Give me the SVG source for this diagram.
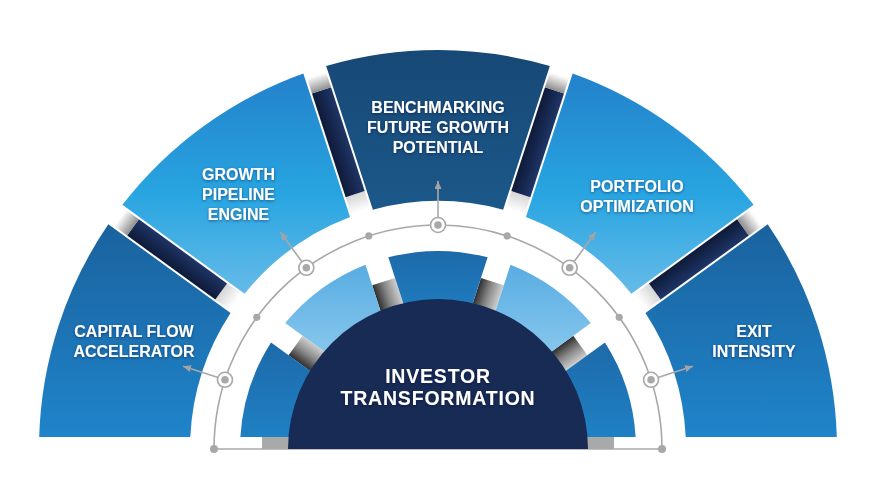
<svg xmlns="http://www.w3.org/2000/svg" width="876" height="504" viewBox="0 0 876 504">
  <defs>
    <linearGradient id="gOuterDark" x1="0" y1="0" x2="0" y2="1">
      <stop offset="0" stop-color="#1a629e"/>
      <stop offset="1" stop-color="#1f84ca"/>
    </linearGradient>
    <linearGradient id="gOuterLight" x1="0" y1="0" x2="0" y2="1">
      <stop offset="0" stop-color="#2381cb"/>
      <stop offset="0.55" stop-color="#28a5e1"/>
      <stop offset="1" stop-color="#66bbe8"/>
    </linearGradient>
    <linearGradient id="gTop" x1="0" y1="0" x2="0" y2="1">
      <stop offset="0" stop-color="#174876"/>
      <stop offset="1" stop-color="#1b5889"/>
    </linearGradient>
    <linearGradient id="gInnerMid" x1="0" y1="0" x2="0" y2="1">
      <stop offset="0" stop-color="#1d6aa9"/>
      <stop offset="1" stop-color="#1f80c4"/>
    </linearGradient>
    <linearGradient id="gInnerLight" x1="0" y1="0" x2="0" y2="1">
      <stop offset="0" stop-color="#58ace2"/>
      <stop offset="1" stop-color="#8ccaee"/>
    </linearGradient>
    <linearGradient id="gBand" x1="0" y1="0" x2="0" y2="1">
      <stop offset="0" stop-color="#0e1a38"/>
      <stop offset="1" stop-color="#1e3566"/>
    </linearGradient>
    <linearGradient id="gCapOut" x1="0" y1="0" x2="1" y2="0">
      <stop offset="0" stop-color="#8e8e8e"/>
      <stop offset="1" stop-color="#ffffff"/>
    </linearGradient>
    <linearGradient id="gCapIn" x1="0" y1="0" x2="1" y2="0">
      <stop offset="0" stop-color="#ffffff"/>
      <stop offset="1" stop-color="#d6d6d6"/>
    </linearGradient>
    <linearGradient id="gGrey" x1="0" y1="0" x2="0" y2="1">
      <stop offset="0" stop-color="#2e2e2e"/>
      <stop offset="0.5" stop-color="#8a8a8a"/>
      <stop offset="1" stop-color="#cfcfcf"/>
    </linearGradient>
    <marker id="arr" markerUnits="userSpaceOnUse" markerWidth="8" markerHeight="7" refX="8" refY="3.5" orient="auto">
      <path d="M0,0 L8,3.5 L0,7 Z" fill="#a3a3a3"/>
    </marker>
    <filter id="sh" x="-10%" y="-30%" width="120%" height="160%">
      <feDropShadow dx="0" dy="1" stdDeviation="1.5" flood-color="#0a1836" flood-opacity="0.5"/>
    </filter>
  </defs>
  <style>
    .lbl { font-family: "Liberation Sans", Arial, sans-serif; font-weight: 700; font-size: 16px; fill: #ffffff; text-anchor: middle; filter: url(#sh); }
    .big { font-size: 19.5px; letter-spacing: 0.8px; }
    .ln { stroke: #a8a8a8; stroke-width: 1.6; fill: none; }
    .dot { fill: #a8a8a8; }
    .node { fill: #ffffff; stroke: #a8a8a8; stroke-width: 1.6; }
    .band { fill: url(#gBand); }
    .capo { fill: url(#gCapOut); }
    .capi { fill: url(#gCapIn); }
    .gb { fill: url(#gGrey); }
  </style>

  <rect width="876" height="504" fill="#ffffff"/>

  <!-- dark separator bands between outer segments -->
  <g id="separators">
    <g transform="translate(438,449) rotate(-144)">
      <rect class="capi" x="250" y="-10" width="18" height="20"/>
      <rect class="band" x="268" y="-10" width="109" height="20"/>
      <rect class="capo" x="377" y="-10" width="16" height="20"/>
    </g>
    <g transform="translate(438,449) rotate(-108)">
      <rect class="capi" x="250" y="-10" width="18" height="20"/>
      <rect class="band" x="268" y="-10" width="109" height="20"/>
      <rect class="capo" x="377" y="-10" width="16" height="20"/>
    </g>
    <g transform="translate(438,449) rotate(-72)">
      <rect class="capi" x="250" y="-10" width="18" height="20"/>
      <rect class="band" x="268" y="-10" width="109" height="20"/>
      <rect class="capo" x="377" y="-10" width="16" height="20"/>
    </g>
    <g transform="translate(438,449) rotate(-36)">
      <rect class="capi" x="250" y="-10" width="18" height="20"/>
      <rect class="band" x="268" y="-10" width="109" height="20"/>
      <rect class="capo" x="377" y="-10" width="16" height="20"/>
    </g>
  </g>

  <!-- inner grey bands -->
  <g id="inner-bands">
    <g transform="translate(438,449) rotate(-180)"><rect fill="#a9a9a9" x="140" y="0" width="36" height="12"/></g>
    <g transform="translate(438,449) rotate(-144)"><rect class="gb" x="140" y="-12" width="36" height="24"/></g>
    <g transform="translate(438,449) rotate(-108)"><rect class="gb" x="140" y="-12" width="36" height="24"/></g>
    <g transform="translate(438,449) rotate(-72)"><rect class="gb" x="140" y="-12" width="36" height="24"/></g>
    <g transform="translate(438,449) rotate(-36)"><rect class="gb" x="140" y="-12" width="36" height="24"/></g>
    <g transform="translate(438,449)"><rect fill="#a9a9a9" x="140" y="-12" width="36" height="12"/></g>
  </g>

  <!-- inner segments -->
  <g id="inner-segments">
    <path fill="url(#gInnerMid)" d="M240.36,437 A198,198 0 0 1 271.05,342.54 L326.23,382.62 A130,130 0 0 0 308.56,437 Z"/>
    <path fill="url(#gInnerLight)" d="M285.16,323.12 A198,198 0 0 1 365.51,264.74 L386.59,329.60 A130,130 0 0 0 340.33,363.21 Z"/>
    <path fill="url(#gInnerMid)" d="M388.34,257.32 A198,198 0 0 1 487.66,257.32 L466.59,322.18 A130,130 0 0 0 409.41,322.18 Z"/>
    <path fill="url(#gInnerLight)" d="M510.49,264.74 A198,198 0 0 1 590.84,323.12 L535.67,363.21 A130,130 0 0 0 489.41,329.60 Z"/>
    <path fill="url(#gInnerMid)" d="M604.95,342.54 A198,198 0 0 1 635.64,437 L567.44,437 A130,130 0 0 0 549.77,382.62 Z"/>
  </g>

  <!-- track behind the centre -->
  <g id="track">
    <path class="ln" d="M214,449 A224,224 0 0 1 662,449"/>
    <path class="ln" d="M214,449 H662"/>
  </g>

  <!-- center -->
  <g id="investor-transformation">
    <path fill="#172b54" d="M288,449 A150,150 0 0 1 588,449 Z"/>
    <text class="lbl big" x="438" y="383">INVESTOR</text>
    <text class="lbl big" x="438" y="405">TRANSFORMATION</text>
  </g>

  <!-- outer segments -->
  <g id="capital-flow-accelerator">
    <path fill="url(#gOuterDark)" d="M39.18,437 A399,399 0 0 1 108.30,224.29 L230.55,313.11 A248,248 0 0 0 190.29,437 Z"/>
    <text class="lbl" x="134" y="337">CAPITAL FLOW</text>
    <text class="lbl" x="134" y="357">ACCELERATOR</text>
  </g>
  <g id="growth-pipeline-engine">
    <path fill="url(#gOuterLight)" d="M122.40,204.87 A399,399 0 0 1 303.34,73.41 L350.04,217.12 A248,248 0 0 0 244.65,293.69 Z"/>
    <text class="lbl" x="238.5" y="180">GROWTH</text>
    <text class="lbl" x="238.5" y="200">PIPELINE</text>
    <text class="lbl" x="238.5" y="220">ENGINE</text>
  </g>
  <g id="benchmarking-future-growth-potential">
    <path fill="url(#gTop)" d="M326.17,65.99 A399,399 0 0 1 549.83,65.99 L503.13,209.70 A248,248 0 0 0 372.87,209.70 Z"/>
    <text class="lbl" x="438" y="113">BENCHMARKING</text>
    <text class="lbl" x="438" y="133">FUTURE GROWTH</text>
    <text class="lbl" x="438" y="153">POTENTIAL</text>
  </g>
  <g id="portfolio-optimization">
    <path fill="url(#gOuterLight)" d="M572.66,73.41 A399,399 0 0 1 753.60,204.87 L631.35,293.69 A248,248 0 0 0 525.96,217.12 Z"/>
    <text class="lbl" x="637" y="192">PORTFOLIO</text>
    <text class="lbl" x="637" y="212">OPTIMIZATION</text>
  </g>
  <g id="exit-intensity">
    <path fill="url(#gOuterDark)" d="M767.70,224.29 A399,399 0 0 1 836.82,437 L685.71,437 A248,248 0 0 0 645.45,313.11 Z"/>
    <text class="lbl" x="754" y="337">EXIT</text>
    <text class="lbl" x="754" y="357">INTENSITY</text>
  </g>

  <!-- connectors: arrows, dots and node markers -->
  <g id="connectors">
    <line class="ln" x1="217.35" y1="377.31" x2="183.12" y2="366.18" marker-end="url(#arr)"/>
    <line class="ln" x1="301.63" y1="261.31" x2="280.47" y2="232.18" marker-end="url(#arr)"/>
    <line class="ln" x1="438" y1="217" x2="438" y2="181" marker-end="url(#arr)"/>
    <line class="ln" x1="574.37" y1="261.31" x2="595.53" y2="232.18" marker-end="url(#arr)"/>
    <line class="ln" x1="658.65" y1="377.31" x2="692.88" y2="366.18" marker-end="url(#arr)"/>
    <circle class="dot" cx="214" cy="449" r="4"/>
    <circle class="dot" cx="662" cy="449" r="4"/>
    <circle class="dot" cx="256.78" cy="317.34" r="3.6"/>
    <circle class="dot" cx="368.78" cy="235.96" r="3.6"/>
    <circle class="dot" cx="507.22" cy="235.96" r="3.6"/>
    <circle class="dot" cx="619.22" cy="317.34" r="3.6"/>
    <circle class="node" cx="224.96" cy="379.78" r="7.5"/>
    <circle class="dot" cx="224.96" cy="379.78" r="3.8"/>
    <circle class="node" cx="306.34" cy="267.78" r="7.5"/>
    <circle class="dot" cx="306.34" cy="267.78" r="3.8"/>
    <circle class="node" cx="438" cy="225" r="7.5"/>
    <circle class="dot" cx="438" cy="225" r="3.8"/>
    <circle class="node" cx="569.66" cy="267.78" r="7.5"/>
    <circle class="dot" cx="569.66" cy="267.78" r="3.8"/>
    <circle class="node" cx="651.04" cy="379.78" r="7.5"/>
    <circle class="dot" cx="651.04" cy="379.78" r="3.8"/>
  </g>
</svg>
